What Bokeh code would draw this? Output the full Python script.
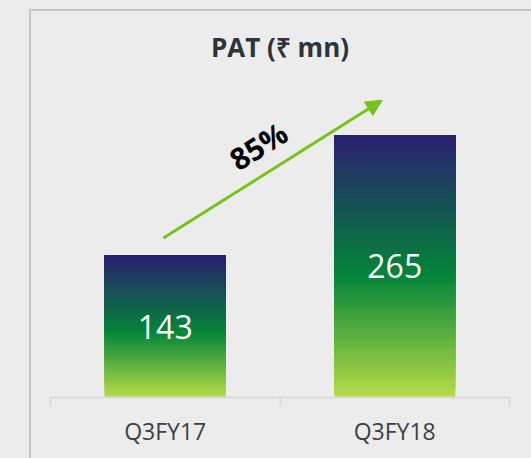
import numpy as np
from bokeh.plotting import figure
from bokeh.models import (FixedTicker, Arrow, NormalHead, Label, ColumnDataSource,
                          Range1d, GlobalInlineStyleSheet)
from bokeh.core.properties import value
from bokeh.embed import file_html
from bokeh.resources import INLINE

# ---- data ----
categories = ["Q3FY17", "Q3FY18"]
pat_values = [143, 265]
title_text = "PAT (\u20b9 mn)"

growth = round((pat_values[1] / pat_values[0] - 1) * 100)

BG = "#ececec"
FONT = "Open Sans"

p = figure(width=515, height=449, output_backend="svg", toolbar_location=None,
           x_range=Range1d(0, len(categories)), y_range=Range1d(0, 331),
           min_border_left=50, min_border_right=6, min_border_bottom=51,
           min_border_top=69)
p.background_fill_color = BG
p.border_fill_color = BG
p.outline_line_color = None
p.grid.visible = False
p.yaxis.visible = False
# page background + the panel's thin grey frame lines (decoration only)
p.stylesheets = [GlobalInlineStyleSheet(css=(
    "body{background:#ececec;}"
    "body::before{content:'';position:fixed;left:29px;top:9px;width:2px;"
    "bottom:0;background:#c6c6c6;z-index:10;}"
    "body::after{content:'';position:fixed;left:29px;top:9px;right:0;"
    "height:2px;background:#c6c6c6;z-index:10;}"))]

p.title.text = title_text
p.title.align = "center"
p.title.text_font = FONT
p.title.text_font_size = "26px"
p.title.text_font_style = "bold"
p.title.text_color = "#2b333d"

# x axis: labels at category centres, ticks between categories
xs = [i + 0.5 for i in range(len(categories))]
ax = p.xaxis[0]
ax.ticker = FixedTicker(ticks=xs, minor_ticks=list(range(len(categories) + 1)))
ax.major_label_overrides = {x: c for x, c in zip(xs, categories)}
ax.major_tick_out = 0
ax.major_tick_in = 0
ax.minor_tick_out = 8
ax.minor_tick_in = 0
ax.minor_tick_line_color = "#d9d9d9"
ax.minor_tick_line_width = 2
ax.axis_line_color = "#d9d9d9"
ax.axis_line_width = 2
ax.major_label_text_font = FONT
ax.major_label_text_font_size = "23px"
ax.major_label_text_color = "#3b4049"
ax.major_label_standoff = 9

# gradient bars (stacked slices, top navy -> green -> light lime bottom)
stops_f = [0.0, 0.54, 1.0]
stops_c = [(41, 32, 112), (4, 134, 57), (184, 221, 72)]
N = 90
bw = 0.527
for i in range(N):
    fb = i / N                       # fraction of bar height (from bottom)
    f_top = 1 - (fb + 0.5 / N)       # fraction from top for colour
    r = np.interp(f_top, stops_f, [c[0] for c in stops_c])
    g = np.interp(f_top, stops_f, [c[1] for c in stops_c])
    b = np.interp(f_top, stops_f, [c[2] for c in stops_c])
    col = "#%02x%02x%02x" % (int(r), int(g), int(b))
    p.vbar(x=xs, width=bw, bottom=[v * fb for v in pat_values], top=pat_values,
           fill_color=col, line_color=None)

# value labels
src = ColumnDataSource(dict(x=xs, y=[v / 2 for v in pat_values],
                            t=[str(v) for v in pat_values]))
p.text(x="x", y="y", text="t", source=src, text_color="white",
       text_font=value(FONT), text_font_size="32px",
       text_align="center", text_baseline="middle")

# growth arrow
green = "#78c31a"
p.add_layout(Arrow(x_start=0.492, y_start=161, x_end=1.445, y_end=300,
                   line_color=green, line_width=3,
                   end=NormalHead(size=16, fill_color=green, line_color=green)))
p.add_layout(Label(x=0.906, y=254, text=f"{growth}%", angle=np.deg2rad(32),
                   text_font=FONT, text_font_size="30px", text_font_style="bold",
                   text_color="black", text_align="center", text_baseline="middle"))

open("out.html", "w").write(file_html(p, INLINE))
